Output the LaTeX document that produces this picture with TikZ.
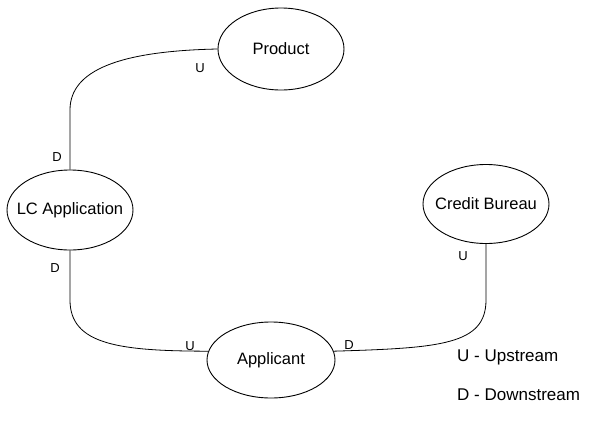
\documentclass[tikz,border=0pt]{standalone}
\usepackage{fontspec}
\setmainfont{Liberation Sans}
\usetikzlibrary{shapes.geometric}
\begin{document}
\begin{tikzpicture}[x=1pt,y=-1pt,
  entity/.style={draw, line width=0.9pt, ellipse, inner sep=0pt},
  etext/.style={font=\fontsize{16.5}{18}\selectfont, inner sep=0pt},
  link/.style={draw, line width=0.8pt},
  lbl/.style={font=\fontsize{13}{15}\selectfont, inner sep=0pt},
  legend/.style={font=\fontsize{17}{19}\selectfont, anchor=west, inner sep=0pt}]
\useasboundingbox (0,0) rectangle (606,421);
\node[entity, minimum width=126pt, minimum height=82pt] (prod) at (281,49) {};
\node[entity, minimum width=126pt, minimum height=80pt] (lc) at (70,210) {};
\node[entity, minimum width=128pt, minimum height=76pt] (app) at (271,360) {};
\node[entity, minimum width=126pt, minimum height=79pt] (cb) at (486,204) {};
\node[etext] (tprod) at (prod) {Product};
\node[etext] (tlc) at (lc) {LC Application};
\node[etext] (tapp) at (app) {Applicant};
\node[etext] (tcb) at (cb) {Credit Bureau};
\draw[link] (prod.west) .. controls (120,51) and (70,70) .. (70,110) -- (lc.north);
\draw[link] (lc.south) -- (70,300) .. controls (70,345) and (120,351) .. (app.172);
\draw[link] (app.8) .. controls (440,348) and (486,345) .. (486,300) -- (cb.south);
\node[lbl] (u1) at (200,68) {U};
\node[lbl] (d1) at (57,157) {D};
\node[lbl] (d2) at (55,268) {D};
\node[lbl] (u2) at (190,346) {U};
\node[lbl] (d3) at (349,345) {D};
\node[lbl] (u3) at (463,256) {U};
\node[legend] (leg1) at (457,357) {U - Upstream};
\node[legend] (leg2) at (457,395) {D - Downstream};
\end{tikzpicture}
\end{document}
